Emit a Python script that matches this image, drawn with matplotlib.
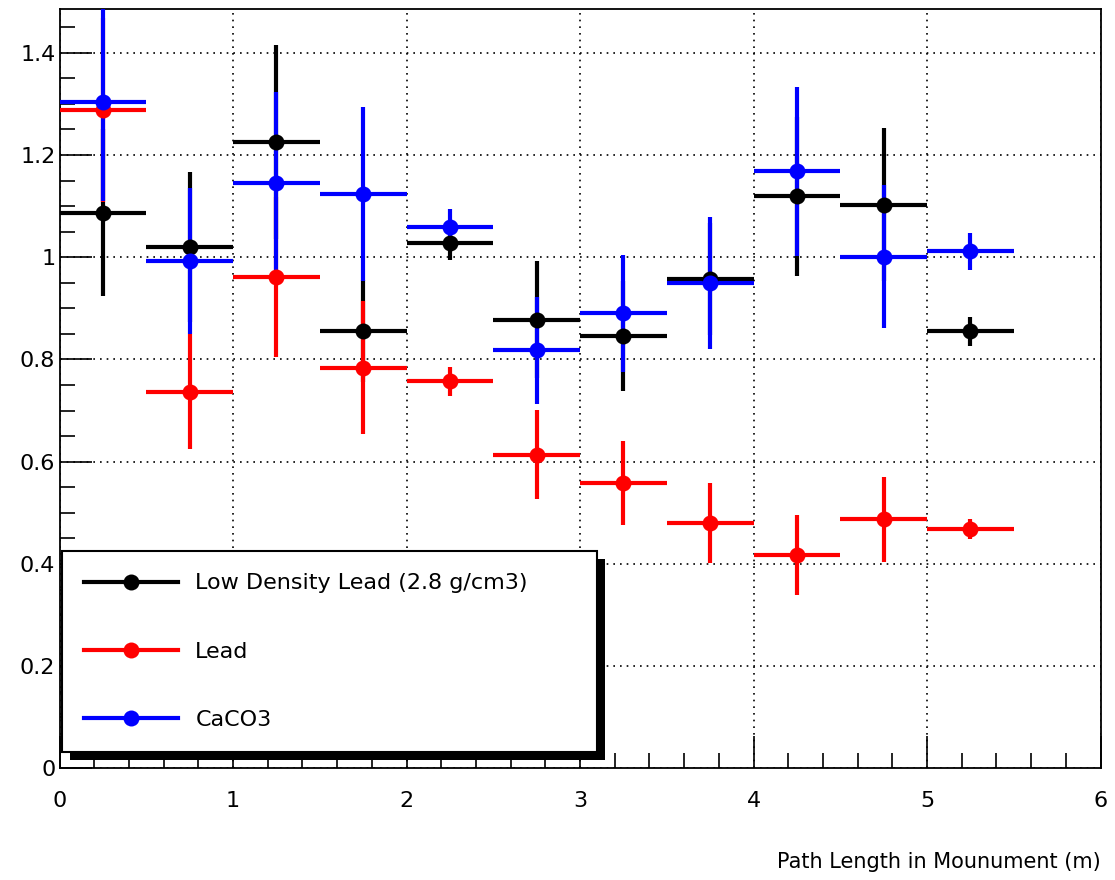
import numpy as np
import matplotlib
matplotlib.use("Agg")
import matplotlib.pyplot as plt
from matplotlib.lines import Line2D
from matplotlib.patches import Rectangle
from matplotlib.transforms import IdentityTransform
from matplotlib.ticker import MultipleLocator

# bins of the path length (m), half width 0.25
bin_centers = [0.25, 0.75, 1.25, 1.75, 2.25, 2.75, 3.25, 3.75, 4.25, 4.75, 5.25]
bin_half = 0.25

low_dens = [1.087, 1.020, 1.225, 0.855, 1.027, 0.878, 0.846, 0.957, 1.119, 1.103, 0.855]
low_dens_err = [0.163, 0.146, 0.190, 0.100, 0.033, 0.114, 0.108, 0.110, 0.156, 0.150, 0.029]

lead = [1.289, 0.737, 0.961, 0.784, 0.757, 0.614, 0.559, 0.480, 0.417, 0.487, 0.468]
lead_err = [0.180, 0.113, 0.156, 0.130, 0.029, 0.087, 0.082, 0.079, 0.078, 0.084, 0.020]

caco3 = [1.304, 0.992, 1.146, 1.123, 1.059, 0.818, 0.890, 0.949, 1.168, 1.001, 1.012]
caco3_err = [0.193, 0.143, 0.178, 0.170, 0.036, 0.105, 0.114, 0.129, 0.165, 0.140, 0.036]

labels = ['Low Density Lead (2.8 g/cm3)', 'Lead', 'CaCO3']
colors = ['black', '#ff0000', '#0000ff']

plt.rcParams['font.family'] = 'DejaVu Sans'

fig = plt.figure(figsize=(11.15, 8.8), dpi=100)
ax = fig.add_axes([0.0534, 0.1268, 0.9336, 0.8626])

ms = 11.5
elw = 3
series = [(low_dens, low_dens_err), (lead, lead_err), (caco3, caco3_err)]
for (vals, errs), col in zip(series, colors):
    ax.errorbar(bin_centers, vals, xerr=bin_half, yerr=errs, fmt='o', color=col,
                ms=ms, mew=0, elinewidth=elw, capsize=0, zorder=3)

ax.set_xlim(0, 6)
ax.set_ylim(0, 1.485)

ax.xaxis.set_major_locator(MultipleLocator(1))
ax.xaxis.set_minor_locator(MultipleLocator(0.2))
ax.yaxis.set_major_locator(MultipleLocator(0.2))
ax.yaxis.set_minor_locator(MultipleLocator(0.05))
ax.set_yticks(np.arange(0, 1.41, 0.2))
ax.set_yticklabels(['0', '0.2', '0.4', '0.6', '0.8', '1', '1.2', '1.4'])

ax.tick_params(which='both', direction='in', width=1.2, colors='black', labelsize=16)
ax.tick_params(which='major', length=23)
ax.tick_params(which='minor', length=11)
ax.tick_params(axis='x', pad=16)
ax.tick_params(axis='y', pad=3)

ax.grid(True, which='major', color='black', linestyle=(0, (1, 3)), linewidth=1.2)
for sp in ax.spines.values():
    sp.set_linewidth(1.3)

ax.set_xlabel('Path Length in Mounument (m)', loc='right', fontsize=15, labelpad=30)

handles = [Line2D([], [], color=c, lw=elw, marker='o', ms=ms, mew=0) for c in colors]
leg = ax.legend(handles, labels, loc='lower left',
                bbox_to_anchor=(0.0024, 0.0216, 0.514, 0.264), mode='expand',
                borderaxespad=0, fontsize=16, frameon=True, fancybox=False,
                edgecolor='black', framealpha=1, handlelength=4.2,
                handletextpad=0.8, labelspacing=2.17, borderpad=1.0)
leg.get_frame().set_linewidth(1.5)
leg.set_zorder(10)

# ROOT style black drop shadow behind the legend box
fig.canvas.draw()
bb = leg.get_window_extent()
shadow = Rectangle((bb.x0 + 8, bb.y0 - 8), bb.width, bb.height, transform=IdentityTransform(),
                   facecolor='black', edgecolor='none', zorder=9, clip_on=False)
ax.add_patch(shadow)

fig.savefig('out.png', dpi=100)
